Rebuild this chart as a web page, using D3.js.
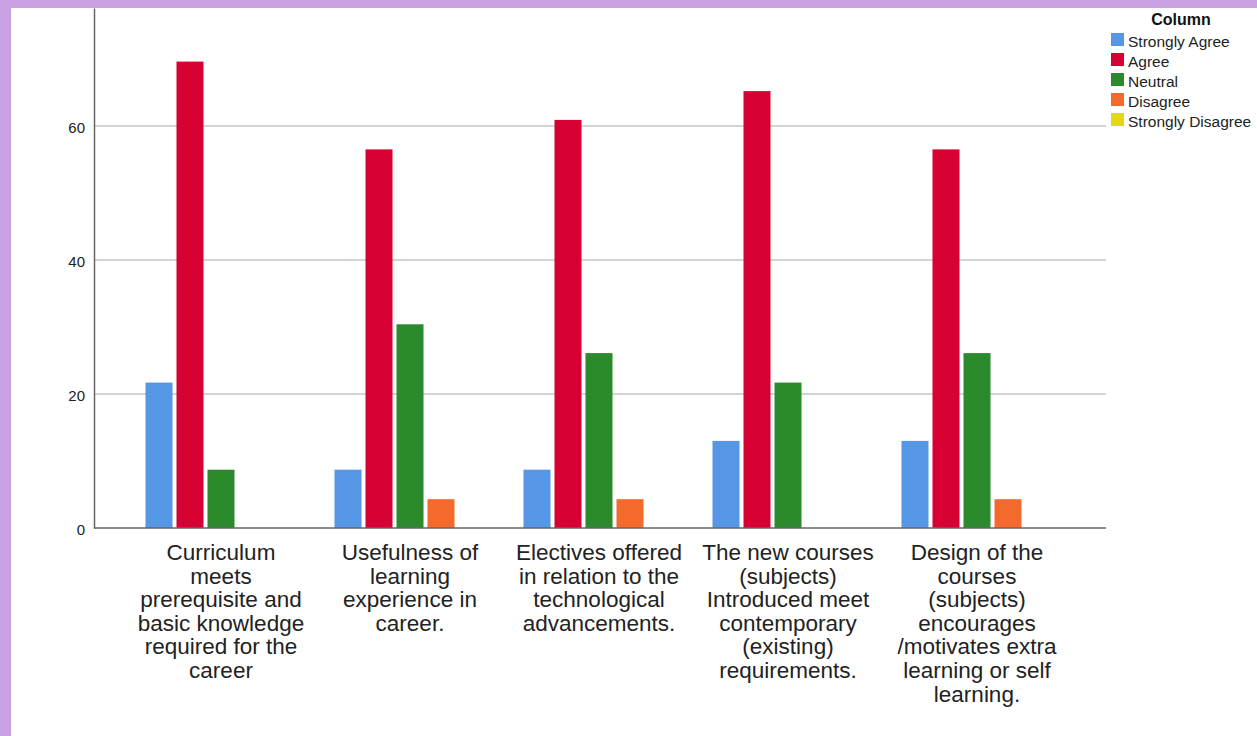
<!DOCTYPE html>
<html><head><meta charset="utf-8">
<script src="https://cdn.jsdelivr.net/npm/d3@7"></script>
<style>
html,body{margin:0;padding:0;background:#fff;}
svg{display:block;font-family:"Liberation Sans",Arial,sans-serif;}
</style></head>
<body>
<script>
const categories = [
  "Curriculum meets prerequisite and basic knowledge required for the career",
  "Usefulness of learning experience in career.",
  "Electives offered in relation to the technological advancements.",
  "The new courses (subjects) Introduced meet contemporary (existing) requirements.",
  "Design of the courses (subjects) encourages /motivates extra learning or self learning."
];
const categoryLines = [
  ["Curriculum","meets","prerequisite and","basic knowledge","required for the","career"],
  ["Usefulness of","learning","experience in","career."],
  ["Electives offered","in relation to the","technological","advancements."],
  ["The new courses","(subjects)","Introduced meet","contemporary","(existing)","requirements."],
  ["Design of the","courses","(subjects)","encourages","/motivates extra","learning or self","learning."]
];
const seriesNames = ["Strongly Agree","Agree","Neutral","Disagree","Strongly Disagree"];
const seriesColors = ["#5596e6","#d70033","#2a8a2c","#f46a2c","#e6d619"];
const stronglyAgree    = [21.7, 8.7, 8.7, 13.0, 13.0];
const agree            = [69.6, 56.5, 60.9, 65.2, 56.5];
const neutral          = [8.7, 30.4, 26.1, 21.7, 26.1];
const disagree         = [0, 4.3, 4.3, 0, 4.3];
const stronglyDisagree = [0, 0, 0, 0, 0];
const yTicks = [0, 20, 40, 60];

const seriesValues = [stronglyAgree, agree, neutral, disagree, stronglyDisagree];

const W = 1257, H = 736;
const svg = d3.select("body").append("svg").attr("width", W).attr("height", H);

// purple frame
svg.append("rect").attr("x",0).attr("y",0).attr("width",W).attr("height",H).attr("fill","#c9a0e2");
svg.append("rect").attr("x",11).attr("y",8).attr("width",W-11).attr("height",H-8).attr("fill","#fff");

const axisLeft = 94, axisRight = 1106, y0 = 528, yTop = 8;
const y = d3.scaleLinear().domain([0, 77.6]).range([y0, yTop]);
const x0 = d3.scaleBand().domain(categories).range([126.5, 1071.5]);
const x1 = d3.scaleBand().domain(seriesNames).range([-77.5, 77.5]);

// gridlines
svg.append("g").selectAll("line").data(yTicks.filter(d => d > 0)).join("line")
  .attr("x1", axisLeft).attr("x2", axisRight)
  .attr("y1", d => y(d)).attr("y2", d => y(d))
  .attr("stroke", "#d4d4d4").attr("stroke-width", 2);

// bars
const g = svg.append("g");
categories.forEach((c, ci) => {
  const cx = x0(c) + x0.bandwidth() / 2;
  seriesNames.forEach((s, si) => {
    const v = seriesValues[si][ci];
    if (v <= 0) return;
    g.append("rect")
      .attr("x", cx + x1(s) + 2)
      .attr("width", x1.bandwidth() - 4)
      .attr("y", y(v))
      .attr("height", y0 - y(v))
      .attr("fill", seriesColors[si]);
  });
});

// y axis
const yAxis = d3.axisLeft(y).tickValues(yTicks).tickSize(0).tickPadding(9).tickFormat(d3.format("d"));
const ya = svg.append("g").attr("transform", `translate(${axisLeft},0)`).call(yAxis);
ya.select(".domain").attr("stroke", "#666").attr("stroke-width", 1.5);
ya.selectAll("text").attr("font-size", 15).attr("fill", "#222").attr("dy", "0.45em")
  .attr("font-family", "Liberation Sans, Arial, sans-serif");

// x axis line
svg.append("line").attr("x1", axisLeft).attr("x2", axisRight).attr("y1", y0).attr("y2", y0)
  .attr("stroke", "#666").attr("stroke-width", 1.5);

// category labels
const xl = svg.append("g");
categories.forEach((c, ci) => {
  const cx = x0(c) + x0.bandwidth() / 2;
  const t = xl.append("text").attr("text-anchor", "middle").attr("font-size", 22.5).attr("fill", "#222");
  categoryLines[ci].forEach((ln, li) => {
    t.append("tspan").attr("x", cx).attr("y", 560 + li * 23.6).text(ln);
  });
});

// legend
const lg = svg.append("g");
lg.append("text").attr("x", 1181).attr("y", 25).attr("text-anchor", "middle")
  .attr("font-size", 16).attr("font-weight", "bold").attr("fill", "#111").text("Column");
seriesNames.forEach((s, i) => {
  const ry = 33 + i * 20;
  lg.append("rect").attr("x", 1111).attr("y", ry).attr("width", 13).attr("height", 13).attr("fill", seriesColors[i]);
  lg.append("text").attr("x", 1128).attr("y", ry + 13.5).attr("font-size", 15.5).attr("fill", "#222").text(s);
});
</script>
</body></html>
